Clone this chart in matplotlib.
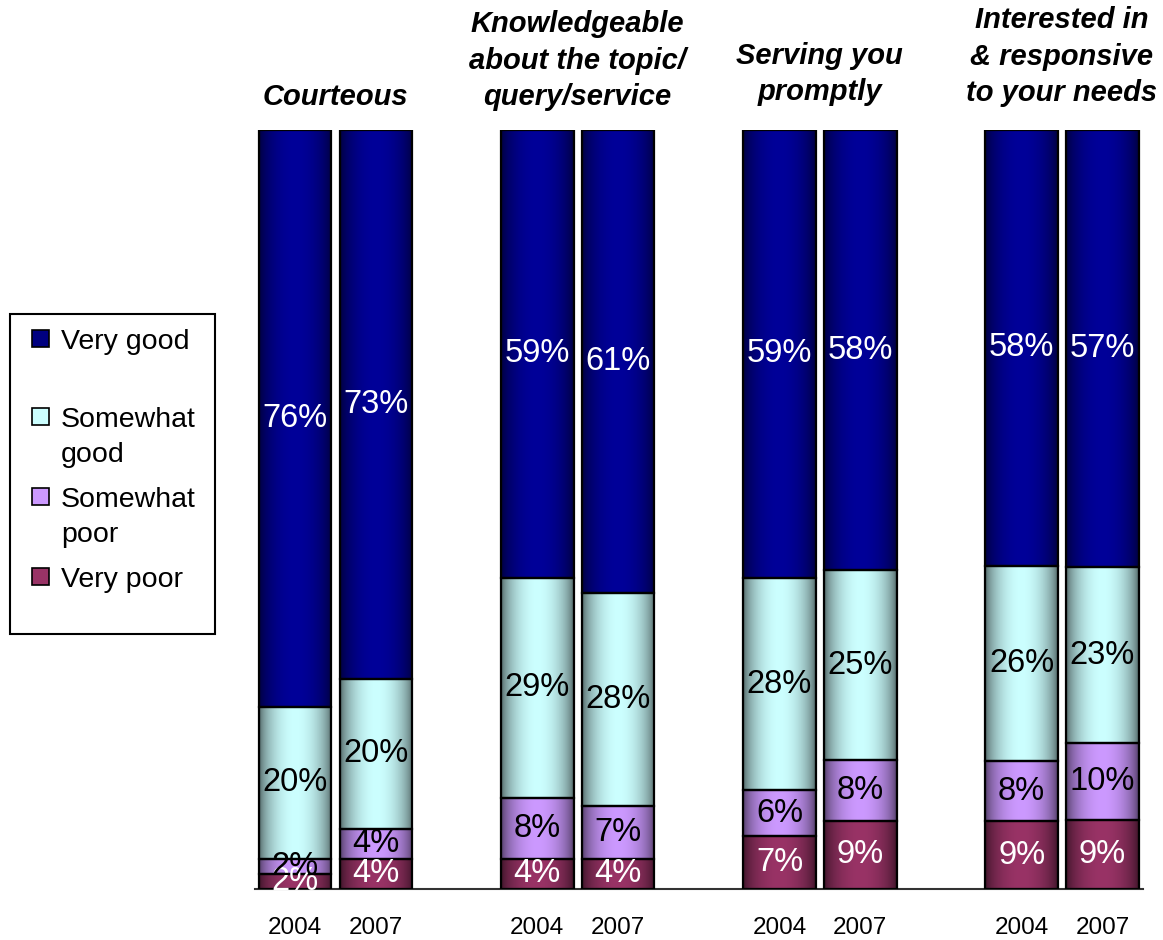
import numpy as np
import matplotlib
matplotlib.use('agg')
from matplotlib import pyplot
from matplotlib import rcParams
from matplotlib.patches import Rectangle
from matplotlib.colors import to_rgb

rcParams['font.family'] = ['Liberation Sans', 'DejaVu Sans']

# data
titles = ['Courteous', 'Knowledgeable\nabout the topic/\nquery/service',
          'Serving you\npromptly', 'Interested in\n& responsive\nto your needs']
years = ['2004', '2007']
ratings = ['Very poor', 'Somewhat poor', 'Somewhat good', 'Very good']
legend_labels = ['Very good', 'Somewhat\ngood', 'Somewhat\npoor', 'Very poor']
# one list per rating, bars in order: group0 2004, group0 2007, group1 2004, ...
very_poor     = [2, 4, 4, 4, 7, 9, 9, 9]
somewhat_poor = [2, 4, 8, 7, 6, 8, 8, 10]
somewhat_good = [20, 20, 29, 28, 28, 25, 26, 23]
very_good     = [76, 73, 59, 61, 59, 58, 58, 57]

colors = ['#993366', '#CC99FF', '#CCFFFF', '#000080']
bar_centers = ['#993366', '#CC99FF', '#CCFFFF', '#000099']
text_colors = ['white', 'black', 'black', 'white']

values = np.array([very_poor, somewhat_poor, somewhat_good, very_good], dtype=float)
totals = values.sum(axis=0)
shares = values / totals * 100  # 100% stacked

fig = pyplot.figure(figsize=(11.63, 9.40), dpi=100)
W, H = 1163.0, 940.0
ax = fig.add_axes([255 / W, (H - 889) / H, (1143 - 255) / W, (889 - 130) / H])

n_groups = len(titles)
xpos = []
for g in range(n_groups):
    xpos += [g * 3 - 0.5, g * 3 + 0.5]
xpos = np.array(xpos)
width = 0.9

t = np.linspace(0, 1, 64)
profile = 0.38 + 0.62 * np.sin(np.pi * t) ** 0.6

bottom = np.zeros(len(xpos))
for i in range(len(ratings)):
    bars = ax.bar(xpos, shares[i], width, bottom=bottom, color=colors[i],
                  edgecolor='none', zorder=2)
    base = np.array(to_rgb(bar_centers[i]))
    grad = np.clip(profile[:, None] * base[None, :], 0, 1)[None, :, :]
    for b in bars:
        im = ax.imshow(grad, extent=(b.get_x(), b.get_x() + b.get_width(),
                                     b.get_y(), b.get_y() + b.get_height()),
                       aspect='auto', interpolation='bicubic', zorder=2.5)
        im.set_clip_path(b)
    ax.bar(xpos, shares[i], width, bottom=bottom, fill=False,
           edgecolor='black', linewidth=1.6, zorder=3)
    for j, b in enumerate(bars):
        ax.text(xpos[j], bottom[j] + shares[i][j] / 2, '%d%%' % values[i][j],
                ha='center', va='center', fontsize=23.5, color=text_colors[i],
                zorder=4)
    bottom = bottom + shares[i]

ax.set_xlim(-0.997, 10.003)
ax.set_ylim(0, 100)
for s in ['top', 'right', 'left']:
    ax.spines[s].set_visible(False)
ax.spines['bottom'].set_linewidth(1.5)
ax.spines['bottom'].set_color('#333333')
ax.set_yticks([])
ax.set_xticks(xpos)
ax.set_xticklabels(years * n_groups, fontsize=17.5)
ax.tick_params(axis='x', length=0, pad=20.5)

# pixel row of the last title line's bottom, per group
title_bottom_px = [111, 111, 106, 107]
for g, title in enumerate(titles):
    y = 100 + (130 - title_bottom_px[g]) / 7.59
    ax.text(g * 3, y, title, ha='center', va='bottom', fontsize=21,
            fontweight='bold', fontstyle='italic', linespacing=1.38,
            clip_on=False)

# legend drawn by hand so markers sit on first text line
fig.add_artist(Rectangle((10 / W, 1 - 634 / H), 205 / W, 320 / H,
                         transform=fig.transFigure, fill=False,
                         edgecolor='black', linewidth=1.5))
legend_y = [339, 417, 497, 577]
for k, lab in enumerate(legend_labels):
    c = colors[len(colors) - 1 - k]
    y = legend_y[k]
    fig.add_artist(Rectangle((32 / W, 1 - (y + 8) / H), 17 / W, 17 / H,
                             transform=fig.transFigure, facecolor=c,
                             edgecolor='black', linewidth=1.2))
    fig.text(61 / W, 1 - (y - 10) / H, lab, ha='left', va='top', fontsize=20.5,
             linespacing=1.45)

fig.savefig('out.png', dpi=100)
